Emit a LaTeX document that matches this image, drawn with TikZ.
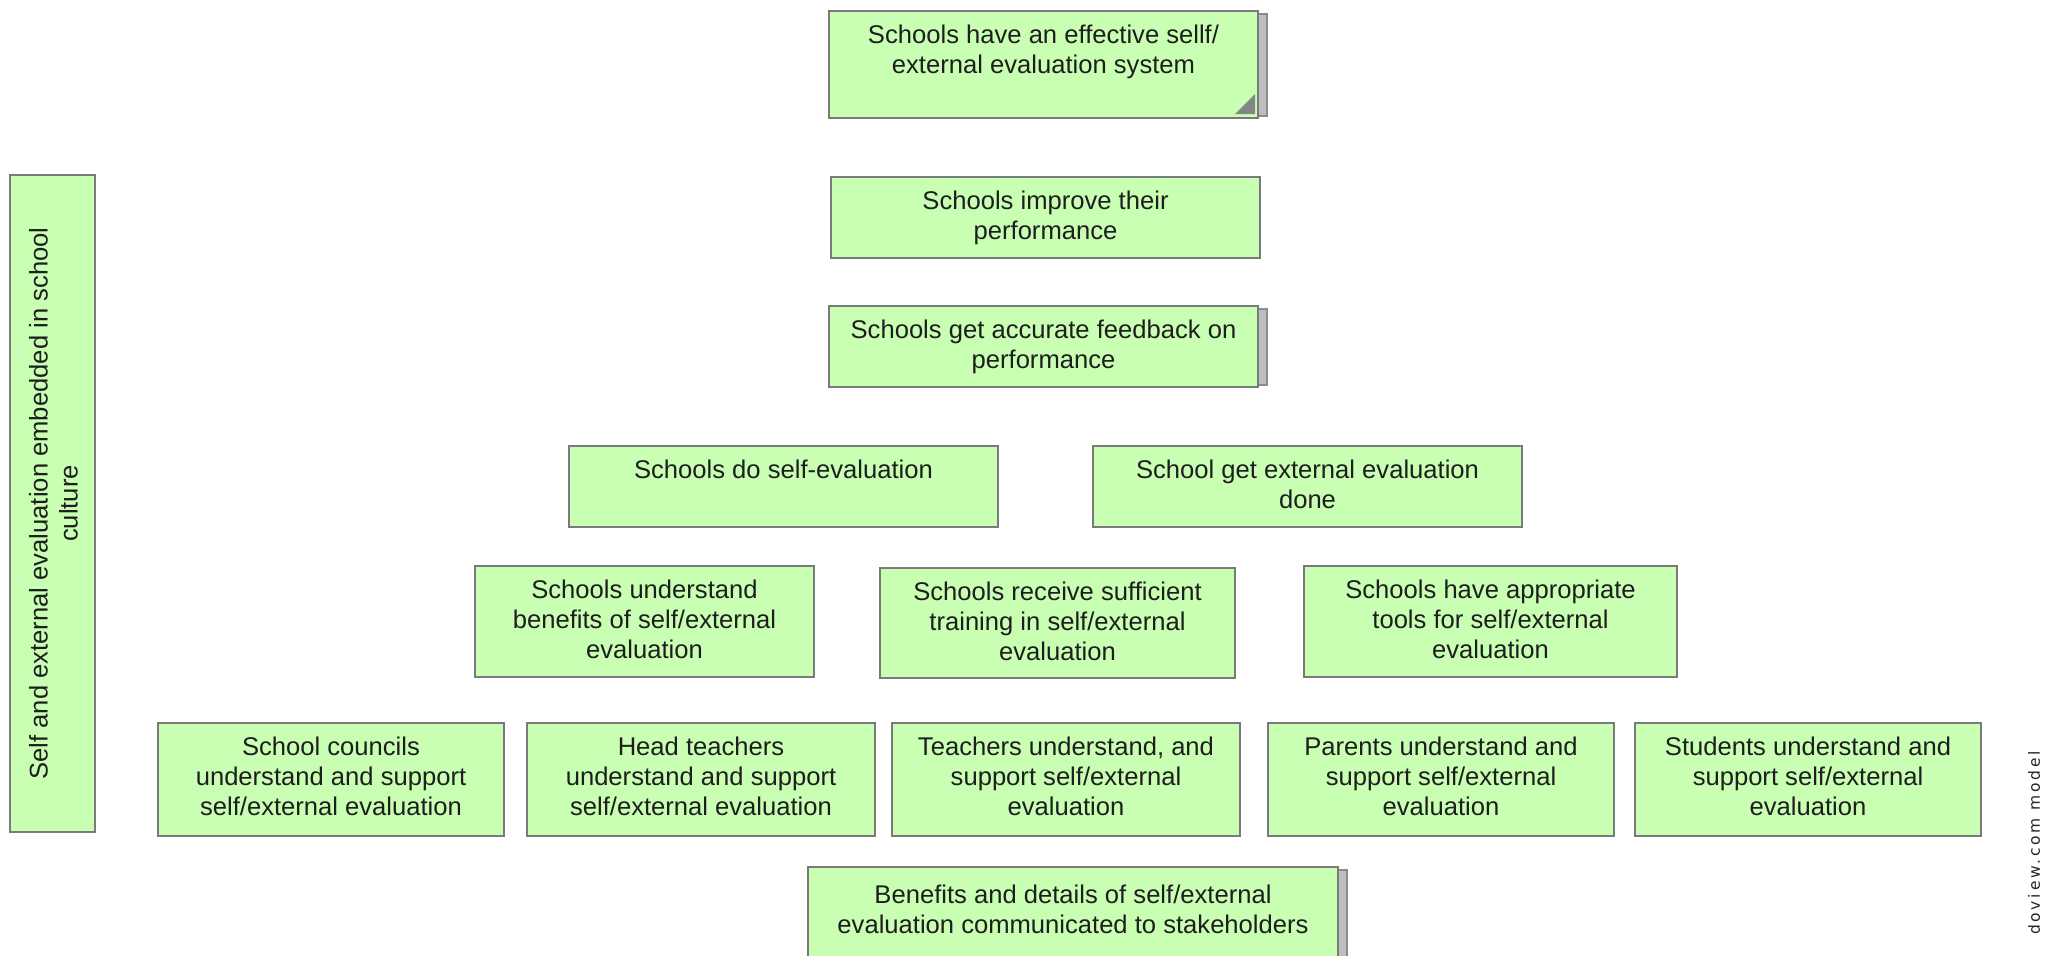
\documentclass[tikz,border=0pt]{standalone}
\usepackage{fontspec}
\setmainfont{Liberation Sans}
\newfontfamily\wmfont[LetterSpace=18]{DejaVu Sans}
\usetikzlibrary{backgrounds}
\definecolor{boxfill}{HTML}{C8FFB2}
\definecolor{boxline}{HTML}{7A7A7A}
\definecolor{txt}{HTML}{1E1E1E}
\definecolor{shfill}{HTML}{BDBDBD}
\definecolor{shline}{HTML}{8C8C8C}
\definecolor{wmgray}{HTML}{262626}
\definecolor{cornergray}{HTML}{858585}
\tikzset{
 box/.style={draw=boxline, fill=boxfill, line width=2pt, inner sep=0pt, text=txt, font=\fontsize{25.6}{30}\selectfont},
 backsheet/.style={draw=shline, fill=shfill, line width=1.5pt},
}
\newcommand{\goalbox}[7]{%
 \node[box, anchor=north west] (#1) at (#2,#3) {\parbox[t][\dimexpr#5pt-#3pt\relax][t]{\dimexpr#4pt-#2pt\relax}{\centering\vspace*{#6pt}#7\par}};}
\begin{document}
\begin{tikzpicture}[x=1pt,y=-1pt]
\path[use as bounding box] (0,0) rectangle (2054,956);
\clip (0,0) rectangle (2054,956);
\goalbox{top}{828}{10}{1257}{117}{14}{Schools have an effective sellf/\\external evaluation system}
\goalbox{improve}{830}{176}{1259}{257}{14}{Schools improve their\\performance}
\goalbox{feedback}{828}{305}{1257}{386}{14}{Schools get accurate feedback on\\performance}
\goalbox{selfeval}{568}{445}{997}{526}{14}{Schools do self-evaluation}
\goalbox{exteval}{1092}{445}{1521}{526}{14}{School get external evaluation\\done}
\goalbox{benefits}{474}{565}{813}{676}{14}{Schools understand\\benefits of self/external\\evaluation}
\goalbox{training}{879}{567}{1234}{677}{14}{Schools receive sufficient\\training in self/external\\evaluation}
\goalbox{tools}{1303}{565}{1676}{676}{14}{Schools have appropriate\\tools for self/external\\evaluation}
\goalbox{councils}{157}{722}{503}{835}{14}{School councils\\understand and support\\self/external evaluation}
\goalbox{head}{526}{722}{874}{835}{14}{Head teachers\\understand and support\\self/external evaluation}
\goalbox{teachers}{891}{722}{1239}{835}{14}{Teachers understand, and\\support self/external\\evaluation}
\goalbox{parents}{1267}{722}{1613}{835}{14}{Parents understand and\\support self/external\\evaluation}
\goalbox{students}{1634}{722}{1980}{835}{14}{Students understand and\\support self/external\\evaluation}
\goalbox{comms}{807}{866}{1337}{975}{18}{Benefits and details of self/external\\evaluation communicated to stakeholders}
\node[box, rotate=90] (culture) at (52.5,503.5) {\parbox[t][85pt][t]{657pt}{\centering\vspace*{19pt}Self and external evaluation embedded in school\\culture\par}};
\begin{scope}[on background layer]
\fill[white] (0,0) rectangle (2054,956);
\foreach \n in {top,feedback,comms}{
 \draw[backsheet] ([xshift=-4pt,yshift=-4pt]\n.north east) rectangle ([xshift=8pt,yshift=3pt]\n.south east);
}
\end{scope}
\fill[cornergray] ([xshift=-4pt,yshift=5pt]top.south east) -- ++(0pt,20pt) -- ++(-20pt,-20pt) -- cycle;
\node[rotate=90, text=wmgray, font=\wmfont\fontsize{15.5}{18}\selectfont] (wm) at (2034,843) {doview.com model};
\end{tikzpicture}
\end{document}
